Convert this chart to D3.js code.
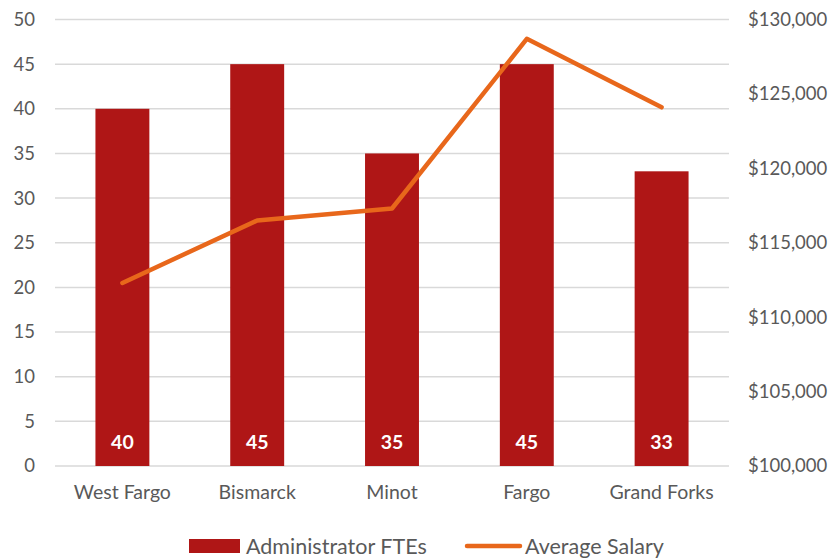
<!DOCTYPE html>
<html><head><meta charset="utf-8">
<script src="https://cdn.jsdelivr.net/npm/d3@7"></script>
<style>html,body{margin:0;padding:0;background:#fff;} svg{display:block;font-family:Lato,"Open Sans",sans-serif;}</style>
</head><body>
<svg id="c" width="833" height="558"></svg>
<script>
const categories = ["West Fargo","Bismarck","Minot","Fargo","Grand Forks"];
const fteValues = [40,45,35,45,33];
const salaryValues = [112300,116500,117300,128700,124100];
const leftTicks = [0,5,10,15,20,25,30,35,40,45,50];
const rightTicks = [100000,105000,110000,115000,120000,125000,130000];
const seriesNames = ["Administrator FTEs","Average Salary"];

(function(){
const svg = d3.select("#c");
const pL = 55, pR = 729, pT = 19.5, pB = 466;
const barColor = "#AF1616", lineColor = "#E8671B", textColor = "#595959", gridColor = "#D9D9D9";

const x = d3.scaleBand().domain(categories).range([pL,pR]).paddingInner(0.6).paddingOuter(0.3);
const yL = d3.scaleLinear().domain([0,50]).range([pB,pT]);
const yR = d3.scaleLinear().domain([100000,130000]).range([pB,pT]);

// gridlines
svg.append("g").selectAll("line").data(leftTicks).join("line")
  .attr("x1",pL).attr("x2",pR)
  .attr("y1",d=>yL(d)).attr("y2",d=>yL(d))
  .attr("stroke",gridColor).attr("stroke-width",1.5);

// left axis
const la = svg.append("g").attr("transform",`translate(${pL},0)`)
  .call(d3.axisLeft(yL).tickValues(leftTicks).tickSize(0).tickPadding(20));
la.select(".domain").remove();
la.selectAll("text").attr("fill",textColor).style("font-size","18.5px").style("font-family","Lato");

// right axis
const fmt = d3.format("$,");
const ra = svg.append("g").attr("transform",`translate(${pR},0)`)
  .call(d3.axisRight(yR).tickValues(rightTicks).tickFormat(fmt).tickSize(0).tickPadding(19));
ra.select(".domain").remove();
ra.selectAll("text").attr("fill",textColor).style("font-size","18.5px").style("font-family","Lato");

// x axis labels
const xa = svg.append("g").attr("transform",`translate(0,${pB})`)
  .call(d3.axisBottom(x).tickSize(0).tickPadding(19));
xa.select(".domain").remove();
xa.selectAll("text").attr("fill",textColor).style("font-size","19.5px").style("font-family","Lato");

// bars
svg.append("g").selectAll("rect").data(fteValues).join("rect")
  .attr("x",(d,i)=>x(categories[i])).attr("width",x.bandwidth())
  .attr("y",d=>yL(d)).attr("height",d=>pB-yL(d))
  .attr("fill",barColor);

// data labels
svg.append("g").selectAll("text").data(fteValues).join("text")
  .attr("x",(d,i)=>x(categories[i])+x.bandwidth()/2)
  .attr("y",yL(2.7))
  .attr("text-anchor","middle").attr("dominant-baseline","central")
  .attr("fill","#fff").style("font-weight","bold").style("font-size","19.5px")
  .text(d=>d);

// line
const line = d3.line().x((d,i)=>x(categories[i])+x.bandwidth()/2).y(d=>yR(d));
svg.append("path").datum(salaryValues).attr("d",line)
  .attr("fill","none").attr("stroke",lineColor).attr("stroke-width",4.5)
  .attr("stroke-linejoin","round").attr("stroke-linecap","round");

// legend
const lg = svg.append("g");
lg.append("rect").attr("x",189).attr("y",539).attr("width",51).attr("height",14).attr("fill",barColor);
lg.append("text").attr("x",246).attr("y",546).attr("dominant-baseline","central")
  .attr("fill",textColor).style("font-size","21.5px").text(seriesNames[0]);
lg.append("line").attr("x1",467).attr("x2",520).attr("y1",546).attr("y2",546)
  .attr("stroke",lineColor).attr("stroke-width",4.5).attr("stroke-linecap","round");
lg.append("text").attr("x",525).attr("y",546).attr("dominant-baseline","central")
  .attr("fill",textColor).style("font-size","21.5px").text(seriesNames[1]);
})();
</script>
</body></html>
